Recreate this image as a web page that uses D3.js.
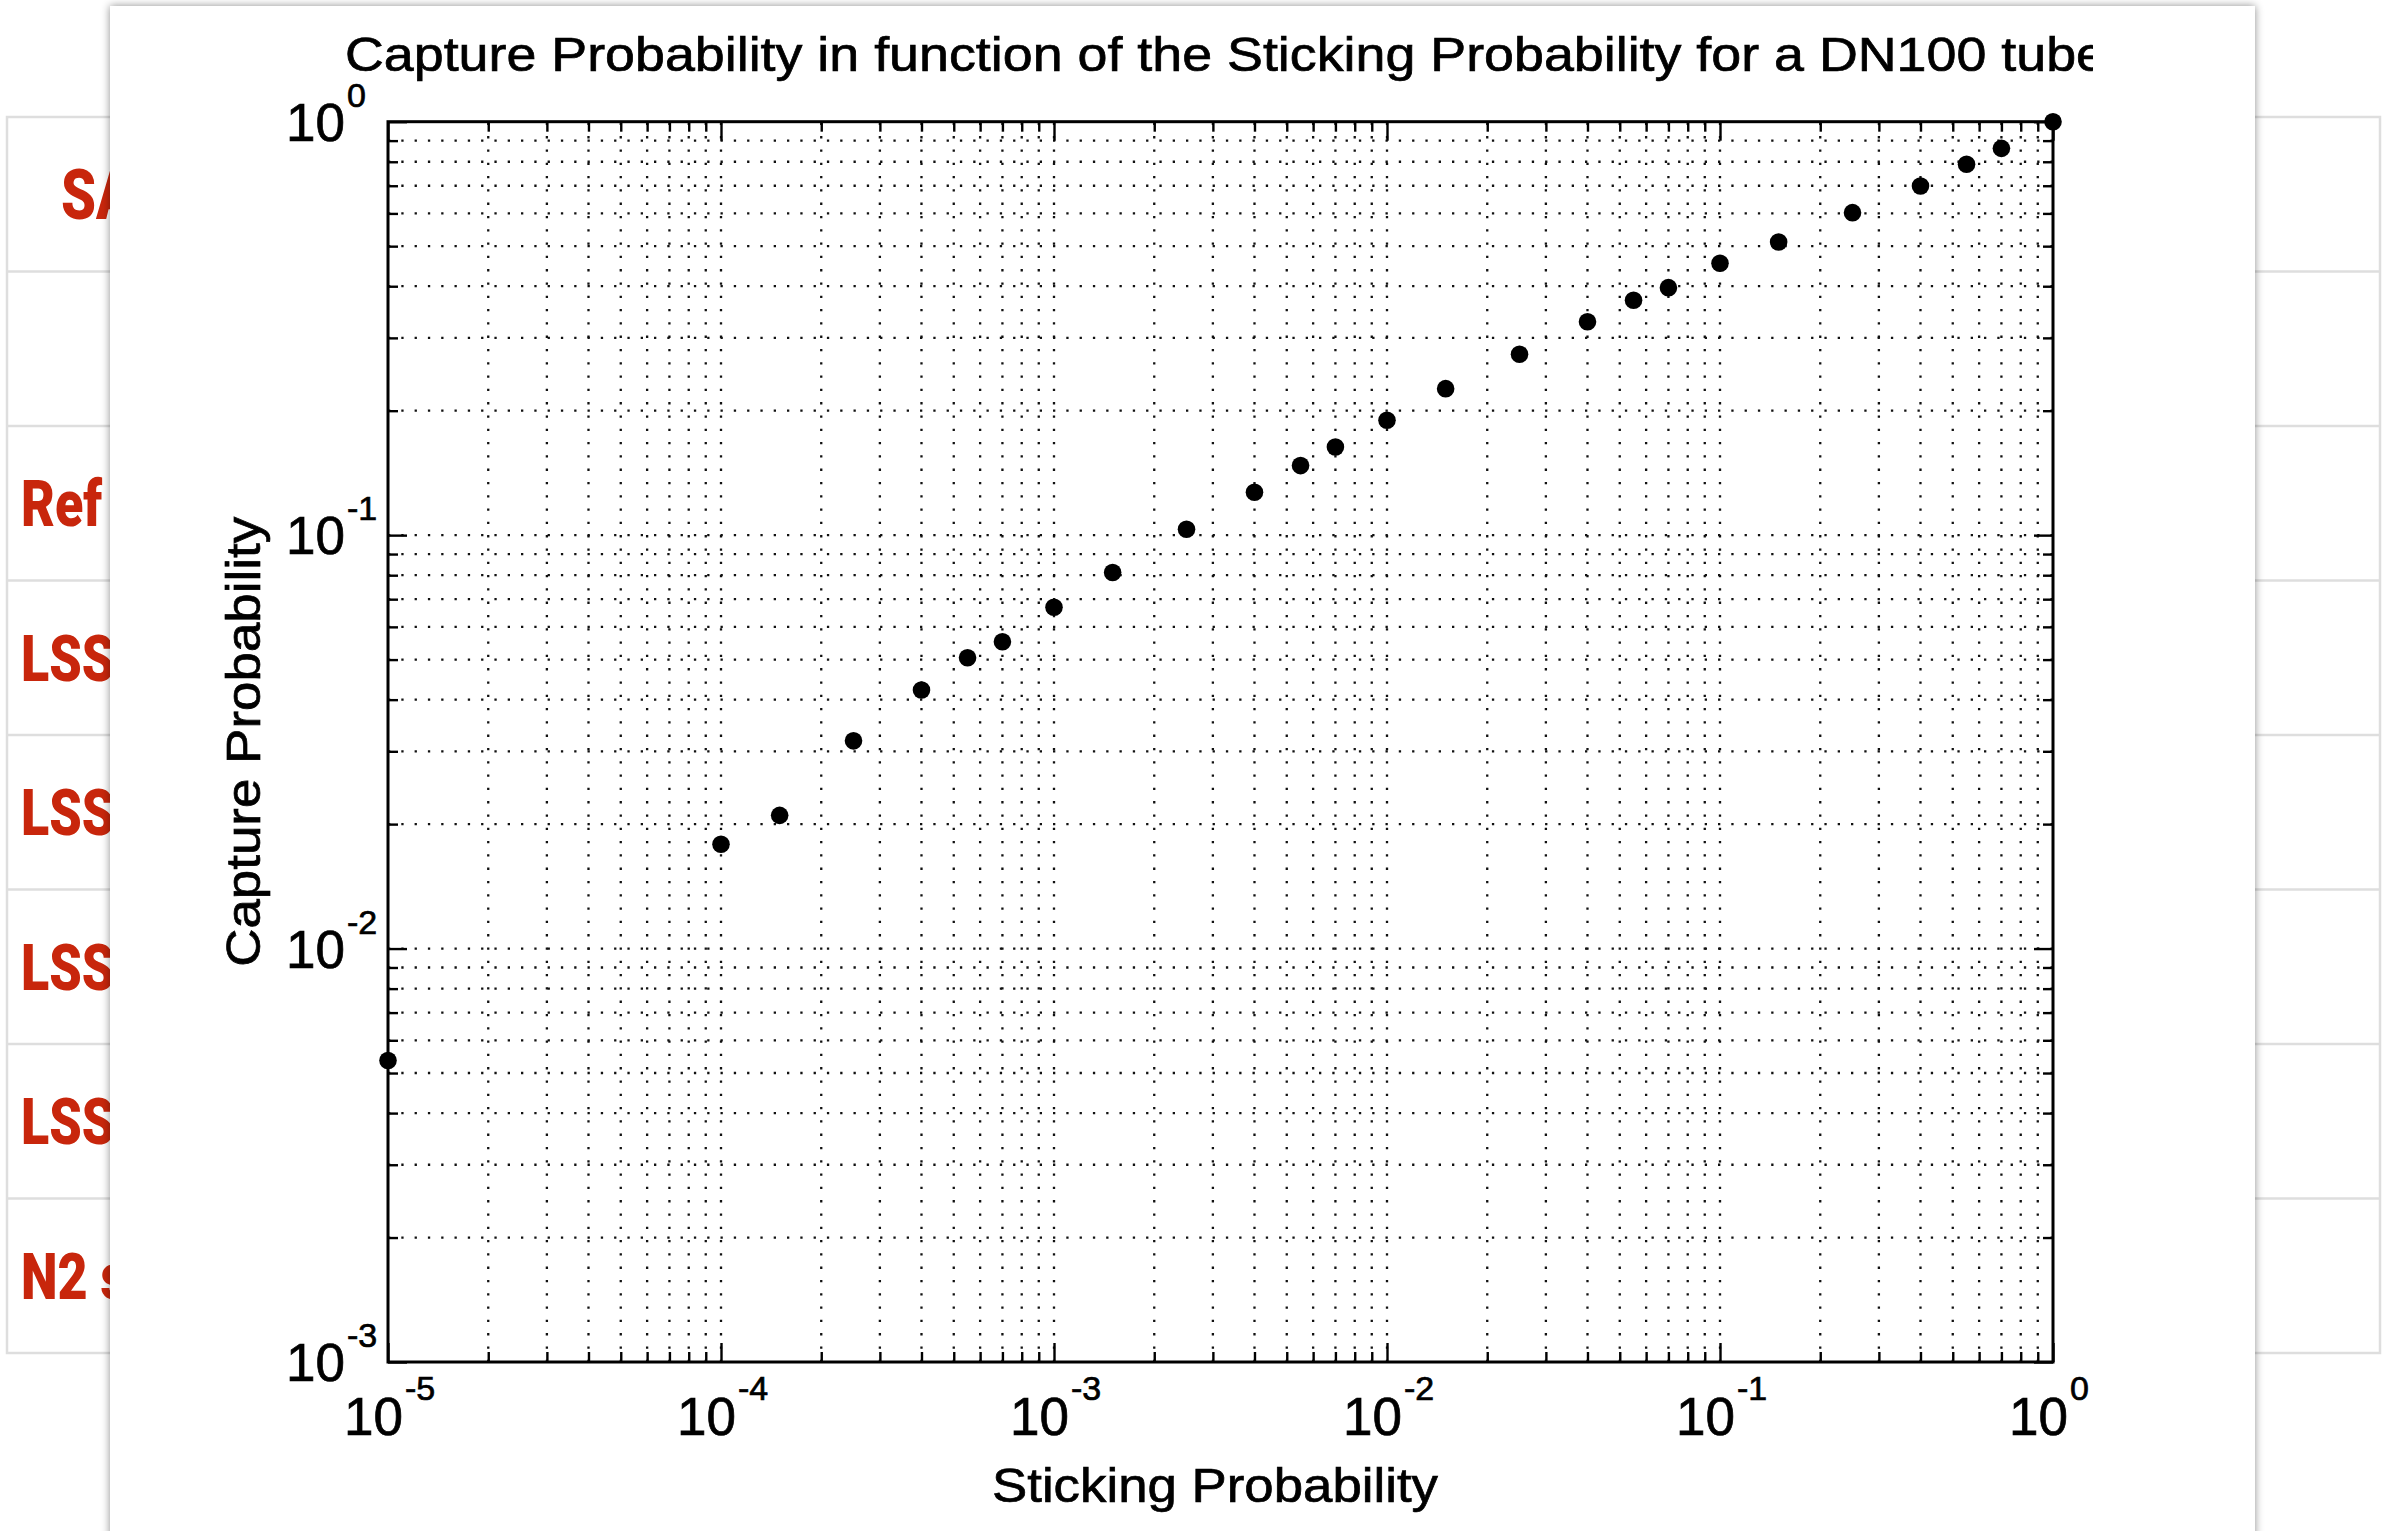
<!DOCTYPE html>
<html><head><meta charset="utf-8">
<script src="https://cdn.jsdelivr.net/npm/d3@7"></script>
<style>html,body{margin:0;padding:0;background:#fff;overflow:hidden} svg{display:block}</style>
</head><body>
<svg id="c" width="2383" height="1531"></svg>
<script>
// ---- data ----
const stickingProb = [1e-5, 1e-4, 1.5e-4, 2.5e-4, 4e-4, 5.5e-4, 7e-4, 1e-3, 1.5e-3, 2.5e-3, 4e-3, 5.5e-3, 7e-3, 1e-2, 1.5e-2, 2.5e-2, 4e-2, 5.5e-2, 7e-2, 0.1, 0.15, 0.25, 0.4, 0.55, 0.7, 1];
const captureProb  = [0.00536, 0.01788, 0.0210, 0.0318, 0.0422, 0.0505, 0.0552, 0.0669, 0.0812, 0.1033, 0.127, 0.1473, 0.1634, 0.1896, 0.2261, 0.2739, 0.3283, 0.3699, 0.3968, 0.4546, 0.5117, 0.6025, 0.6991, 0.7889, 0.862, 1.0];
const xMajorTicks = [1e-5, 1e-4, 1e-3, 1e-2, 1e-1, 1];
const xTickExponents = ["-5", "-4", "-3", "-2", "-1", "0"];
const yMajorTicks = [1e-3, 1e-2, 1e-1, 1];
const yTickExponents = ["-3", "-2", "-1", "0"];
const titleText = "Capture Probability in function of the Sticking Probability for a DN100 tube";
const xLabelText = "Sticking Probability";
const yLabelText = "Capture Probability";
const tableRowLabels = ["SA", "", "Ref", "LSS", "LSS", "LSS", "LSS", "N2 s"];

// ---- layout ----
const svg = d3.select("#c");
const FONT = "'Liberation Sans', Arial, Helvetica, sans-serif";
const defs = svg.append("defs");
const f = defs.append("filter").attr("id", "sh").attr("x", "-5%").attr("y", "-5%").attr("width", "110%").attr("height", "110%");
f.append("feDropShadow").attr("dx", 0).attr("dy", 0).attr("stdDeviation", 4).attr("flood-color", "#000").attr("flood-opacity", 0.45);
defs.append("clipPath").attr("id", "titleClip").append("rect").attr("x", 110).attr("y", 0).attr("width", 2093 - 110).attr("height", 110);

// background table
const rows = d3.scaleBand().domain(d3.range(tableRowLabels.length)).range([117, 1353]);
const tbl = svg.append("g");
tbl.append("rect").attr("x", 7).attr("y", 117).attr("width", 2373).attr("height", 1236)
  .attr("fill", "#fff").attr("stroke", "#dedede").attr("stroke-width", 2.5);
tbl.selectAll("line.row").data(d3.range(1, tableRowLabels.length)).join("line")
  .attr("x1", 7).attr("x2", 2380).attr("y1", i => rows(i)).attr("y2", i => rows(i))
  .attr("stroke", "#dedede").attr("stroke-width", 2.5);
tbl.selectAll("text").data(tableRowLabels).join("text")
  .attr("transform", (d, i) => `translate(${i === 0 ? 61 : 21},${rows(i) + rows.bandwidth() / 2 + (i === 0 ? 25 : 23)}) scale(0.8,1)`)
  .attr("font-family", "Roboto, 'Liberation Sans', sans-serif").attr("font-weight", 900)
  .attr("font-size", (d, i) => i === 0 ? 70 : 65).attr("fill", "#c8260c").text(d => d);

// figure panel
svg.append("rect").attr("x", 110).attr("y", 6).attr("width", 2145).attr("height", 1600)
  .attr("fill", "#fff").attr("filter", "url(#sh)");

// scales
const x = d3.scaleLog().domain([1e-5, 1]).range([388, 2053]);
const y = d3.scaleLog().domain([1e-3, 1]).range([1362, 121.7]);
const [L, R] = x.range(); const [B, T] = y.range();

// grid
const g = svg.append("g");
const xAll = x.ticks(), yAll = y.ticks();
g.selectAll("line.gx").data(xAll.filter(v => v > 1e-5 && v < 1)).join("line")
  .attr("x1", d => x(d)).attr("x2", d => x(d)).attr("y1", B).attr("y2", T)
  .attr("stroke", "#111").attr("stroke-width", 2.3).attr("stroke-dasharray", "2.3 11");
g.selectAll("line.gy").data(yAll.filter(v => v > 1e-3 && v < 1)).join("line")
  .attr("y1", d => y(d)).attr("y2", d => y(d)).attr("x1", L).attr("x2", R)
  .attr("stroke", "#111").attr("stroke-width", 2.3).attr("stroke-dasharray", "2.3 11");

// axes ticks (inward, on all four sides)
const isMajor = v => Math.abs(Math.log10(v) - Math.round(Math.log10(v))) < 1e-9;
const xMinor = xAll.filter(v => !isMajor(v)), yMinor = yAll.filter(v => !isMajor(v));
function addAxis(axisGen, scale, vals, size, tr) {
  const a = g.append("g").attr("transform", tr)
    .call(axisGen(scale).tickValues(vals).tickSize(-size).tickFormat(""));
  a.select(".domain").remove();
  a.selectAll(".tick line").attr("stroke", "#000").attr("stroke-width", 2.4);
}
addAxis(d3.axisBottom, x, xMajorTicks, 19, `translate(0,${B})`);
addAxis(d3.axisBottom, x, xMinor, 10, `translate(0,${B})`);
addAxis(d3.axisTop, x, xMajorTicks, 19, `translate(0,${T})`);
addAxis(d3.axisTop, x, xMinor, 10, `translate(0,${T})`);
addAxis(d3.axisLeft, y, yMajorTicks, 19, `translate(${L},0)`);
addAxis(d3.axisLeft, y, yMinor, 10, `translate(${L},0)`);
addAxis(d3.axisRight, y, yMajorTicks, 19, `translate(${R},0)`);
addAxis(d3.axisRight, y, yMinor, 10, `translate(${R},0)`);
g.append("rect").attr("x", L).attr("y", T).attr("width", R - L).attr("height", B - T)
  .attr("fill", "none").attr("stroke", "#000").attr("stroke-width", 3);

// tick labels
const lab = svg.append("g").attr("font-family", FONT).attr("fill", "#000")
  .attr("stroke", "#000").attr("stroke-width", 0.7);
xMajorTicks.forEach((v, i) => {
  lab.append("text").attr("x", x(v) + 15).attr("y", B + 73).attr("text-anchor", "end").attr("font-size", 53).text("10");
  lab.append("text").attr("x", x(v) + 17).attr("y", B + 38).attr("text-anchor", "start").attr("font-size", 34).text(xTickExponents[i]);
});
yMajorTicks.forEach((v, i) => {
  lab.append("text").attr("x", 345).attr("y", y(v) + 19).attr("text-anchor", "end").attr("font-size", 53).text("10");
  lab.append("text").attr("x", 347).attr("y", y(v) - 15).attr("text-anchor", "start").attr("font-size", 34).text(yTickExponents[i]);
});

// title & axis labels
lab.append("text").attr("clip-path", "url(#titleClip)").attr("x", 345).attr("y", 71)
  .attr("font-size", 49).attr("textLength", 1761).attr("lengthAdjust", "spacingAndGlyphs").text(titleText);
lab.append("text").attr("x", 992).attr("y", 1502).attr("font-size", 49)
  .attr("textLength", 446).attr("lengthAdjust", "spacingAndGlyphs").text(xLabelText);
lab.append("text").attr("transform", `translate(260,${(T + B) / 2}) rotate(-90)`).attr("text-anchor", "middle")
  .attr("font-size", 49).attr("textLength", 450).attr("lengthAdjust", "spacingAndGlyphs").text(yLabelText);

// markers
svg.append("g").selectAll("circle").data(stickingProb.map((s, i) => [s, captureProb[i]])).join("circle")
  .attr("cx", d => x(d[0])).attr("cy", d => y(d[1])).attr("r", 8.8).attr("fill", "#000");
</script>
</body></html>
